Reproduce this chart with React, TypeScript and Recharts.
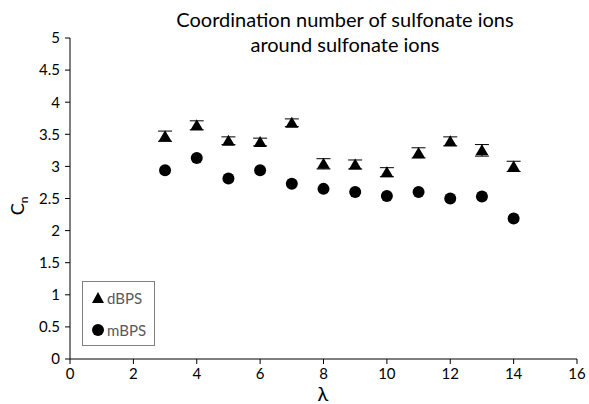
import { ErrorBar, Scatter, ScatterChart, XAxis, YAxis } from 'recharts';

const lambdas = [3, 4, 5, 6, 7, 8, 9, 10, 11, 12, 13, 14];
const dBPS = [3.47, 3.64, 3.4, 3.38, 3.68, 3.04, 3.03, 2.91, 3.21, 3.39, 3.25, 3.0];
const dBPSErr = [0.08, 0.07, 0.06, 0.06, 0.06, 0.08, 0.07, 0.07, 0.08, 0.07, 0.09, 0.08];
const mBPS = [2.94, 3.13, 2.81, 2.94, 2.73, 2.65, 2.6, 2.54, 2.6, 2.5, 2.53, 2.19];
const xTicks = [0, 2, 4, 6, 8, 10, 12, 14, 16];
const yTicks = [0, 0.5, 1, 1.5, 2, 2.5, 3, 3.5, 4, 4.5, 5];

const dData = lambdas.map((x, i) => ({ x, y: dBPS[i], err: dBPSErr[i] }));
const mData = lambdas.map((x, i) => ({ x, y: mBPS[i] }));

const font = 'Lato, "Open Sans", sans-serif';

const Triangle = (props: any) => {
  const { cx, cy } = props;
  if (cx == null || cy == null) return null;
  return <path d={`M${cx},${cy - 6} L${cx + 6.5},${cy + 5} L${cx - 6.5},${cy + 5} Z`} fill="#000" />;
};

const Dot = (props: any) => {
  const { cx, cy } = props;
  if (cx == null || cy == null) return null;
  return <circle cx={cx} cy={cy} r={6} fill="#000" />;
};

// legend drawn as a plain overlay so recharts does not reserve room for it
const LegendBox = () => (
  <div
    style={{
      position: 'absolute',
      left: 82,
      top: 281,
      border: '1px solid #7f7f7f',
      width: 73,
      height: 65,
      boxSizing: 'border-box',
      fontFamily: font,
      fontSize: 15,
      color: '#595959',
      background: '#fff',
      padding: '5px 0 0 8px',
    }}
  >
    <div style={{ display: 'flex', alignItems: 'center', height: 22 }}>
      <svg width={14} height={14}>
        <path d="M7,1 L13,12 L1,12 Z" fill="#000" />
      </svg>
      <span style={{ marginLeft: 2 }}>dBPS</span>
    </div>
    <div style={{ display: 'flex', alignItems: 'center', height: 22, marginTop: 10 }}>
      <svg width={14} height={14}>
        <circle cx={7} cy={7} r={6} fill="#000" />
      </svg>
      <span style={{ marginLeft: 2 }}>mBPS</span>
    </div>
  </div>
);

export default function App() {
  return (
    <div style={{ position: 'absolute', left: 0, top: 0, width: 589, height: 404, background: '#fff' }}>
      <ScatterChart width={589} height={404} margin={{ top: 38, right: 12, left: 10, bottom: 15 }}>
        <XAxis
          type="number"
          dataKey="x"
          domain={[0, 16]}
          ticks={xTicks}
          height={30}
          tickSize={5}
          stroke="#000"
          tick={{ fill: '#000', fontSize: 15, fontFamily: font }}
          tickMargin={4}
        />
        <YAxis
          type="number"
          dataKey="y"
          domain={[0, 5]}
          ticks={yTicks}
          width={60}
          tickSize={5}
          stroke="#000"
          tick={{ fill: '#000', fontSize: 15, fontFamily: font }}
          tickMargin={5}
        />
        <Scatter name="dBPS" data={dData} shape={<Triangle />} isAnimationActive={false}>
          <ErrorBar dataKey="err" direction="y" width={7} stroke="#000" strokeWidth={1} />
        </Scatter>
        <Scatter name="mBPS" data={mData} shape={<Dot />} isAnimationActive={false} />
        <text x={345} y={27} textAnchor="middle" fontFamily={font} fontSize={20} fill="#000">
          Coordination number of sulfonate ions
        </text>
        <text x={345} y={52} textAnchor="middle" fontFamily={font} fontSize={20} fill="#000">
          around sulfonate ions
        </text>
        <text x={323} y={401} textAnchor="middle" fontFamily={font} fontSize={20} fill="#000">
          λ
        </text>
        <text transform="translate(24,206) rotate(-90)" textAnchor="middle" fontFamily={font} fontSize={18} fill="#000">
          C<tspan fontSize={12} dy={4}>n</tspan>
        </text>
      </ScatterChart>
      <LegendBox />
    </div>
  );
}
